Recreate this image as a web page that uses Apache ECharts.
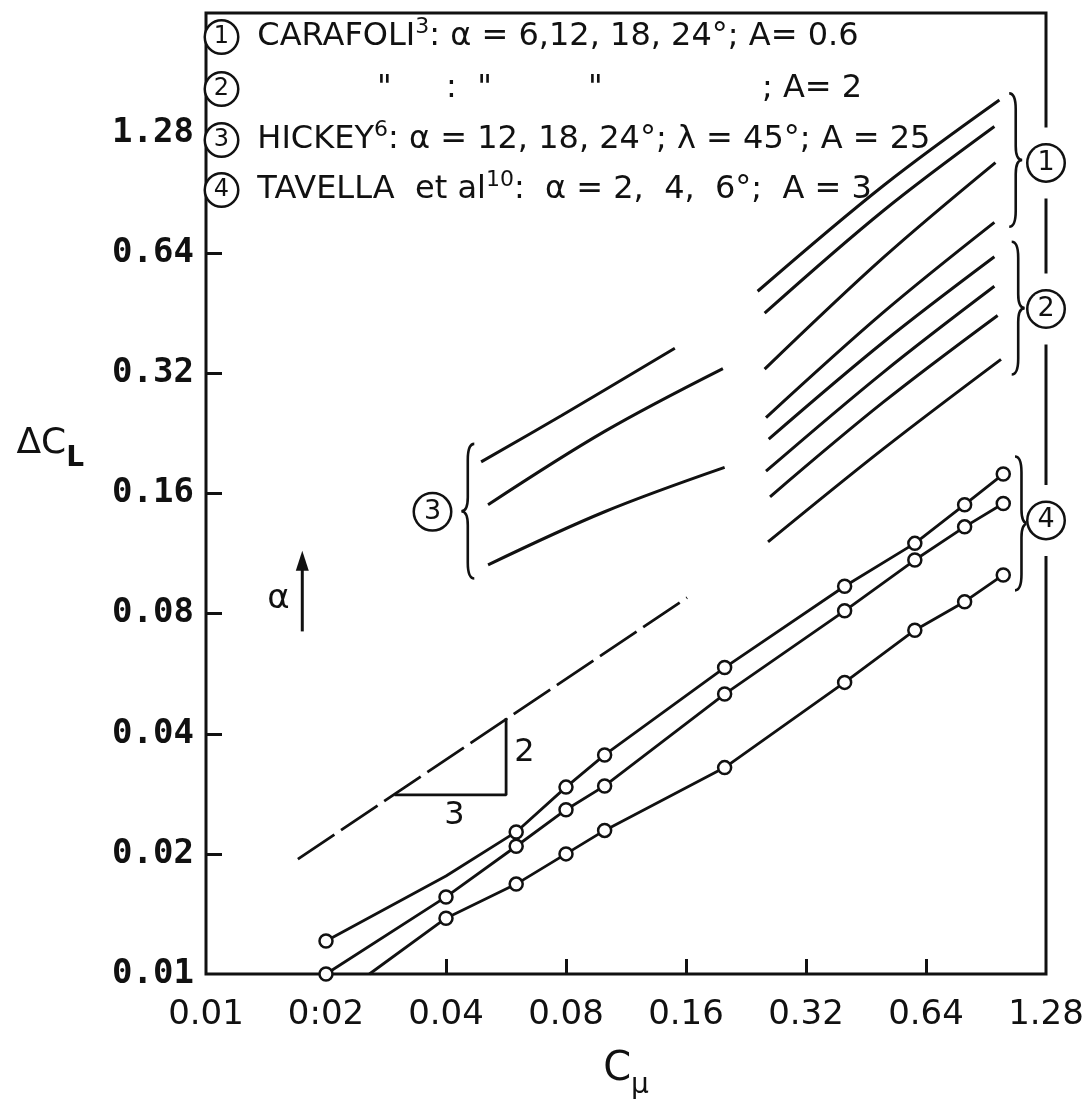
<!DOCTYPE html>
<html>
<head>
<meta charset="utf-8">
<title>Delta CL vs C mu</title>
<style>
  html, body { margin: 0; padding: 0; background: #fff; }
  #chart { width: 1089px; height: 1105px; }
</style>
<script src="https://cdn.jsdelivr.net/npm/echarts@6/dist/echarts.min.js"></script>
</head>
<body>
<div id="chart"></div>
<script>
// ---- axes ----
const xTickValues = [0.01, 0.02, 0.04, 0.08, 0.16, 0.32, 0.64, 1.28];
const xTickLabels = ["0.01", "0:02", "0.04", "0.08", "0.16", "0.32", "0.64", "1.28"];
const xTickMarks = [0.04, 0.08, 0.16, 0.32, 0.64];
const yTickValues = [0.01, 0.02, 0.04, 0.08, 0.16, 0.32, 0.64, 1.28];
const yTickLabels = ["0.01", "0.02", "0.04", "0.08", "0.16", "0.32", "0.64", "1.28"];
const yTickMarks = [0.02, 0.04, 0.08, 0.16, 0.32, 0.64, 1.28];

// ---- (1) Carafoli, A = 0.6 : alpha 24, 18, 12, 6 deg (top to bottom) ----
const carafoliA06 = [
  [[0.242, 0.514], [0.50, 0.945], [0.978, 1.55]],
  [[0.252, 0.453], [0.50, 0.818], [0.950, 1.33]],
  [[0.252, 0.328], [0.50, 0.624], [0.956, 1.08]],
  [[0.254, 0.248], [0.50, 0.455], [0.950, 0.765]],
];
// ---- (2) Carafoli, A = 2 ----
const carafoliA2 = [
  [[0.258, 0.219], [0.50, 0.383], [0.950, 0.627]],
  [[0.254, 0.182], [0.50, 0.322], [0.950, 0.529]],
  [[0.260, 0.157], [0.50, 0.271], [0.968, 0.447]],
  [[0.257, 0.121], [0.50, 0.207], [0.987, 0.347]],
];
// ---- (3) Hickey : alpha 24, 18, 12 deg ----
const hickey = [
  [[0.049, 0.192], [0.078, 0.251], [0.150, 0.370]],
  [[0.051, 0.150], [0.100, 0.229], [0.198, 0.329]],
  [[0.051, 0.106], [0.100, 0.144], [0.200, 0.186]],
];
// ---- (4) Tavella et al : alpha 6, 4, 2 deg ----
const tavellaCmu = [0.02, 0.04, 0.06, 0.08, 0.1, 0.2, 0.4, 0.6, 0.8, 1.0];
const tavella6 = [0.0121, 0.0176, 0.0227, 0.0294, 0.0354, 0.0586, 0.0937, 0.120, 0.150, 0.179];
const tavella6Marked = [1, 0, 1, 1, 1, 1, 1, 1, 1, 1];
const tavella4 = [0.0100, 0.0156, 0.0209, 0.0258, 0.0296, 0.0503, 0.0813, 0.109, 0.132, 0.151];
const tavella4Marked = [1, 1, 1, 1, 1, 1, 1, 1, 1, 1];
const tavella2Cmu = [0.0257, 0.04, 0.06, 0.08, 0.1, 0.2, 0.4, 0.6, 0.8, 1.0];
const tavella2 = [0.0100, 0.0138, 0.0168, 0.0200, 0.0229, 0.0329, 0.0538, 0.0727, 0.0857, 0.100];
const tavella2Marked = [0, 1, 1, 1, 1, 1, 1, 1, 1, 1];

// ---- slope 2/3 reference ----
const slopeLine = [[0.017, 0.0194], [0.161, 0.0877]];
const slopeTriangle = [[0.0297, 0.0281], [0.0566, 0.0281], [0.0566, 0.0438]];
const slopeTexts = [[0.0629, 0.0358, "2"], [0.0420, 0.0250, "3"]];
const alphaArrow = [[0.01744, 0.0722], [0.01744, 0.1086]];
const alphaText = [[0.0152, 0.0868, "α"]];

// ---- group brackets [Cmu, top, bottom, direction] and circled tags ----
const braces = [
  [1.035, 1.61, 0.746, 1],
  [1.05, 0.684, 0.318, 1],
  [1.07, 0.198, 0.0915, 1],
  [0.0471, 0.213, 0.098, -1],
];
const groupTags = [[1.28, 1.078, "1"], [1.28, 0.464, "2"], [1.28, 0.137, "4"], [0.037, 0.144, "3"]];

const INK = "#111";
const chart = echarts.init(document.getElementById("chart"));

function pickLabel(values, labels) {
  return (v) => {
    let best = 0;
    values.forEach((t, i) => {
      if (Math.abs(Math.log(t / v)) < Math.abs(Math.log(values[best] / v))) best = i;
    });
    return labels[best];
  };
}

const circleRich = (size, fs) => ({
  width: size, height: size, lineHeight: size, align: "center",
  borderColor: INK, borderWidth: 2.5, borderRadius: size / 2,
  fontSize: fs, fontFamily: "DejaVu Sans", color: INK, backgroundColor: "#fff",
});

function curve(name, pts) {
  return {
    type: "line", name, data: pts, symbol: "none", smooth: 0.35, silent: true, z: 3,
    lineStyle: { color: INK, width: 3 },
  };
}

function tavella(name, xs, ys, marked) {
  return {
    type: "line", name, clip: false, z: 4, silent: true,
    data: xs.map((x, i) => ({ value: [x, ys[i]], symbol: marked[i] ? "circle" : "none" })),
    symbol: "circle", symbolSize: 13, showAllSymbol: true,
    itemStyle: { color: "#fff", borderColor: INK, borderWidth: 2.5, opacity: 1 },
    lineStyle: { color: INK, width: 2.8 },
  };
}

function textMarks(name, rows, fs) {
  return {
    type: "scatter", name, silent: true, z: 6, clip: false,
    data: rows, symbolSize: 1, itemStyle: { color: "rgba(0,0,0,0)", opacity: 1 },
    label: {
      show: true, position: "inside", formatter: (p) => p.data[2], opacity: 1,
      fontSize: fs, fontFamily: "DejaVu Sans", color: INK,
    },
  };
}

const series = [];
carafoliA06.forEach((c, i) => series.push(curve("Carafoli A=0.6 #" + (i + 1), c)));
carafoliA2.forEach((c, i) => series.push(curve("Carafoli A=2 #" + (i + 1), c)));
hickey.forEach((c, i) => series.push(curve("Hickey #" + (i + 1), c)));
series.push(tavella("Tavella 6°", tavellaCmu, tavella6, tavella6Marked));
series.push(tavella("Tavella 4°", tavellaCmu, tavella4, tavella4Marked));
series.push(tavella("Tavella 2°", tavella2Cmu, tavella2, tavella2Marked));
series.push({
  type: "line", name: "slope", data: slopeLine, symbol: "none", silent: true, z: 3,
  lineStyle: { color: INK, width: 2.8, type: [44, 8] },
});
series.push({
  type: "line", name: "triangle", data: slopeTriangle, symbol: "none", silent: true, z: 3,
  lineStyle: { color: INK, width: 2.8 },
});
series.push({
  type: "line", name: "alpha arrow", silent: true, z: 3, clip: false,
  data: alphaArrow.map((p, i) => ({ value: p, symbol: i ? "triangle" : "none" })),
  symbol: "none", symbolSize: [13, 20], showAllSymbol: true,
  itemStyle: { color: INK, opacity: 1 }, lineStyle: { color: INK, width: 3 },
});
series.push(textMarks("slope text", slopeTexts, 32));
series.push(textMarks("alpha text", alphaText, 34));
series.push({
  type: "custom", name: "braces", silent: true, z: 5, clip: false,
  data: braces,
  renderItem(params, api) {
    const top = api.coord([api.value(0), api.value(1)]);
    const bot = api.coord([api.value(0), api.value(2)]);
    const w = 13 * api.value(3);
    const x0 = top[0], y1 = top[1], y2 = bot[1], ym = (y1 + y2) / 2;
    const xm = x0 + w * 0.5;
    const d = `M${x0} ${y1} Q${xm} ${y1} ${xm} ${y1 + 16} L${xm} ${ym - 14} Q${xm} ${ym} ${x0 + w} ${ym}` +
      ` Q${xm} ${ym} ${xm} ${ym + 14} L${xm} ${y2 - 16} Q${xm} ${y2} ${x0} ${y2}`;
    return { type: "path", shape: { pathData: d }, style: { fill: "none", stroke: INK, lineWidth: 2.6 } };
  },
});
series.push({
  type: "scatter", name: "group tags", silent: true, z: 7, clip: false,
  data: groupTags, symbolSize: 1, itemStyle: { color: "rgba(0,0,0,0)", opacity: 1 },
  label: {
    show: true, position: "inside", formatter: (p) => `{c|${p.data[2]}}`, opacity: 1,
    backgroundColor: "#fff", padding: [18, 2],
    rich: { c: circleRich(35, 27) },
  },
});

// legend block (top left inside the frame)
const legendRich = {
  c: circleRich(31, 24),
  sup: { fontSize: 22, verticalAlign: "top", lineHeight: 42, fontFamily: "DejaVu Sans", color: INK },
  t: { fontSize: 32, lineHeight: 42, fontFamily: "DejaVu Sans", color: INK },
};
const legendLine = (y, text) => ({
  type: "text", x: 206, y, z: 10,
  style: { text, rich: legendRich, verticalAlign: "middle", fill: INK },
});
const plainText = (x, y, text) => ({
  type: "text", x, y, z: 10,
  style: { text, font: "32px 'DejaVu Sans'", verticalAlign: "middle", fill: INK },
});

const option = {
  backgroundColor: "#fff",
  animation: false,
  grid: {
    left: 206, right: 43, top: 13, bottom: 128,
    show: true, borderColor: INK, borderWidth: 3, backgroundColor: "transparent",
  },
  xAxis: {
    type: "log", logBase: 2, min: 0.01, max: 1.28,
    axisLine: { show: false },
    splitLine: { show: false },
    axisTick: { show: true, inside: true, length: 15, customValues: xTickMarks, lineStyle: { color: INK, width: 3 } },
    axisLabel: {
      customValues: xTickValues, formatter: pickLabel(xTickValues, xTickLabels),
      fontSize: 34, fontFamily: "DejaVu Sans", color: INK, margin: 24,
      showMinLabel: true, showMaxLabel: true, hideOverlap: false,
    },
    name: "{c|C}{s|μ}", nameLocation: "middle", nameGap: 66,
    nameTextStyle: {
      rich: {
        c: { fontSize: 40, fontFamily: "DejaVu Sans", color: INK },
        s: { fontSize: 28, fontFamily: "DejaVu Sans", color: INK, padding: [32, 0, 0, 0] },
      },
    },
  },
  yAxis: {
    type: "log", logBase: 2, min: 0.01, max: 2.56,
    axisLine: { show: false },
    splitLine: { show: false },
    axisTick: { show: true, inside: true, length: 16, customValues: yTickMarks, lineStyle: { color: INK, width: 3 } },
    axisLabel: {
      customValues: yTickValues, formatter: pickLabel(yTickValues, yTickLabels),
      fontSize: 34, fontWeight: "bold", fontFamily: "DejaVu Sans Mono", color: INK, margin: 12,
      showMinLabel: true, showMaxLabel: true, hideOverlap: false,
    },
    name: "{d|ΔC}{s|L}", nameLocation: "middle", nameRotate: 0, nameGap: 122,
    nameTextStyle: {
      padding: [0, 0, 100, 0],
      rich: {
        d: { fontSize: 36, fontFamily: "DejaVu Sans", color: INK },
        s: { fontSize: 28, fontWeight: "bold", fontFamily: "DejaVu Sans", color: INK, padding: [30, 0, 0, 0] },
      },
    },
  },
  graphic: [
    legendLine(37, "{c|1}{t|  CARAFOLI}{sup|3}{t|: α = 6,12, 18, 24°; A= 0.6}"),
    legendLine(89, "{c|2}"),
    plainText(377, 89, "\""),
    plainText(446, 89, ":  \""),
    plainText(588, 89, "\""),
    plainText(762, 89, "; A= 2"),
    legendLine(140, "{c|3}{t|  HICKEY}{sup|6}{t|: α = 12, 18, 24°; λ = 45°; A = 25}"),
    legendLine(190, "{c|4}{t|  TAVELLA  et al}{sup|10}{t|:  α = 2,  4,  6°;  A = 3}"),
  ],
  series,
};

chart.setOption(option);
</script>
</body>
</html>
